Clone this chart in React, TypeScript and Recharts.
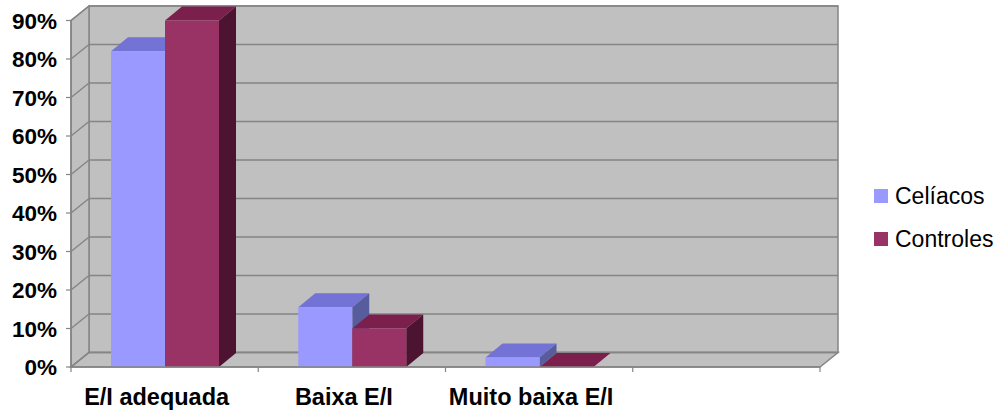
import { BarChart, Bar, XAxis, YAxis, ReferenceArea } from "recharts";

const categories = ["E/I adequada", "Baixa E/I", "Muito baixa E/I", ""];
const celiacos = [0.82, 0.155, 0.025, null];
const controles = [0.9, 0.1, 0, null];
const yTicks = [0, 0.1, 0.2, 0.3, 0.4, 0.5, 0.6, 0.7, 0.8, 0.9];

const FONT = "'Liberation Sans', Arial, sans-serif";
const GRID = "#858585";
const WALL = "#c0c0c0";

// depth of the walls and of the boxes
const WDX = 18;
const WDY = -14.5;
const BDX = 17;
const BDY = -14;

const series = [
  { key: "celiacos", name: "Celíacos", front: "#9999ff", top: "#7373d6", side: "#575d9c" },
  { key: "controles", name: "Controles", front: "#993366", top: "#7b1f4d", side: "#4d1431" },
];

const data = categories.map((name, i) => ({
  name,
  celiacos: celiacos[i],
  controles: controles[i],
}));

const pct = (v: number) => `${Math.round(v * 100)}%`;

// back wall, left wall and floor, drawn from the plot rect
function Walls(props: any) {
  const { x, y, width, height } = props;
  const x1 = x + width;
  const yb = y + height;
  const max = yTicks[yTicks.length - 1];
  const n = categories.length;
  return (
    <g>
      <rect x={x + WDX} y={y + WDY} width={width} height={height} fill={WALL} stroke={GRID} strokeWidth={1.5} />
      <polygon
        points={`${x},${y} ${x + WDX},${y + WDY} ${x + WDX},${yb + WDY} ${x},${yb}`}
        fill={WALL}
        stroke={GRID}
        strokeWidth={1.5}
      />
      <polygon
        points={`${x},${yb} ${x + WDX},${yb + WDY} ${x1 + WDX},${yb + WDY} ${x1},${yb}`}
        fill={WALL}
        stroke={GRID}
        strokeWidth={1.5}
      />
      {yTicks.map((t) => {
        const yy = yb - (t / max) * height;
        return (
          <g key={t}>
            <line x1={x} y1={yy} x2={x + WDX} y2={yy + WDY} stroke={GRID} strokeWidth={1.5} />
            <line x1={x + WDX} y1={yy + WDY} x2={x1 + WDX} y2={yy + WDY} stroke={GRID} strokeWidth={1.5} />
          </g>
        );
      })}
      {Array.from({ length: n + 1 }, (_, i) => {
        const xx = x + (i * width) / n;
        return <line key={i} x1={xx} y1={yb} x2={xx} y2={yb + 5} stroke={GRID} strokeWidth={1.2} />;
      })}
    </g>
  );
}

function makeBox(s: (typeof series)[number]) {
  return (props: any) => {
    const { x, y, width, height, payload } = props;
    if (payload == null || payload[s.key] == null) return <g />;
    const b = y + height;
    const r = x + width;
    return (
      <g>
        <polygon points={`${x},${y} ${x + BDX},${y + BDY} ${r + BDX},${y + BDY} ${r},${y}`} fill={s.top} />
        <polygon points={`${r},${y} ${r + BDX},${y + BDY} ${r + BDX},${b + BDY} ${r},${b}`} fill={s.side} />
        {height > 0 && <rect x={x} y={y} width={width} height={height} fill={s.front} />}
      </g>
    );
  };
}

const YTick = ({ x, y, payload }: any) => (
  <text x={x} y={y + 8} textAnchor="end" fontFamily={FONT} fontWeight={700} fontSize={22.5} fill="#000">
    {pct(payload.value)}
  </text>
);

const XTick = ({ x, y, payload }: any) => (
  <text x={x - 8} y={y + 36} textAnchor="middle" fontFamily={FONT} fontWeight={700} fontSize={23.5} fill="#000">
    {payload.value}
  </text>
);

export default function App() {
  return (
    <div style={{ position: "absolute", left: 0, top: 0, width: 1003, height: 414, background: "#fff" }}>
      <BarChart
        width={1003}
        height={414}
        data={data}
        margin={{ top: 20.5, right: 183, bottom: 0, left: 0 }}
        barGap={0}
      >
        <ReferenceArea y1={0} y2={0.9} ifOverflow="visible" shape={(p: any) => <Walls {...p} />} />
        <XAxis
          dataKey="name"
          interval={0}
          height={47}
          tickLine={false}
          tickSize={0}
          axisLine={{ stroke: GRID, strokeWidth: 1.5 }}
          tick={<XTick />}
        />
        <YAxis
          width={71}
          domain={[0, 0.9]}
          ticks={yTicks}
          tickSize={5}
          tickMargin={9}
          tickLine={{ stroke: GRID, strokeWidth: 1.2 }}
          axisLine={{ stroke: GRID, strokeWidth: 1.5 }}
          tick={<YTick />}
        />
        {series.map((s) => (
          <Bar
            key={s.key}
            dataKey={s.key}
            name={s.name}
            fill={s.front}
            barSize={54}
            isAnimationActive={false}
            shape={makeBox(s)}
          />
        ))}
      </BarChart>
      {series.map((s, i) => (
        <div
          key={s.key}
          style={{
            position: "absolute",
            left: 874,
            top: 182 + i * 43,
            height: 28,
            display: "flex",
            alignItems: "center",
            fontFamily: FONT,
            fontSize: 23,
            color: "#000",
            whiteSpace: "nowrap",
          }}
        >
          <span style={{ width: 14, height: 14, background: s.front, marginRight: 7, display: "inline-block" }} />
          {s.name}
        </div>
      ))}
    </div>
  );
}
